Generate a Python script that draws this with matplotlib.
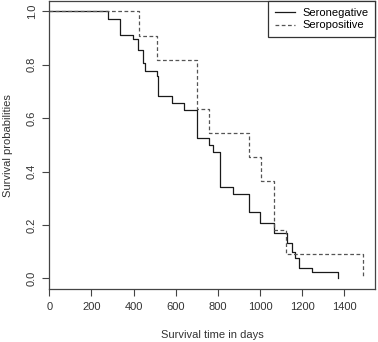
import matplotlib
matplotlib.use("Agg")
import matplotlib.pyplot as plt

# Kaplan-Meier step values
neg_days = [0, 277, 336, 399, 423, 447, 456, 510, 518, 581, 637, 700, 760,
            779, 811, 874, 947, 1001, 1064, 1128, 1150, 1167, 1186, 1246, 1370]
neg_surv = [1.0, 0.971, 0.910, 0.895, 0.855, 0.805, 0.776, 0.758, 0.683,
            0.657, 0.631, 0.527, 0.500, 0.475, 0.342, 0.315, 0.248, 0.209,
            0.169, 0.133, 0.097, 0.076, 0.038, 0.025, 0.0]

pos_days = [0, 426, 513, 700, 760, 947, 1006, 1064, 1124, 1490]
pos_surv = [1.0, 0.909, 0.818, 0.636, 0.545, 0.455, 0.364, 0.182, 0.091, 0.0]

x_ticks = [0, 200, 400, 600, 800, 1000, 1200, 1400]
y_ticks = [0.0, 0.2, 0.4, 0.6, 0.8, 1.0]

plt.rcParams["font.family"] = ["Liberation Sans", "DejaVu Sans"]
FS = 8

fig = plt.figure(figsize=(3.78, 3.42), dpi=100)
ax = fig.add_axes([49.3 / 378, 1 - 289.3 / 342, 326 / 378, 288.3 / 342])

ax.step(neg_days, neg_surv, where="post", color="#1a1a1a", lw=0.9,
        label="Seronegative")
ax.step(pos_days, pos_surv, where="post", color="#555555", lw=0.9,
        linestyle=(0, (3, 2)), label="Seropositive")

ax.set_xlim(0, 1547)
ax.set_ylim(-0.041, 1.039)
ax.set_xticks(x_ticks)
ax.set_yticks(y_ticks)
ax.set_xticklabels([str(t) for t in x_ticks], fontsize=FS, color="#333333")
ax.set_yticklabels([f"{t:.1f}" for t in y_ticks], fontsize=FS,
                   rotation=90, va="center", color="#333333")
ax.tick_params(length=5, width=0.8, color="#444444", pad=4)
for sp in ax.spines.values():
    sp.set_color("#444444")
    sp.set_linewidth(0.9)

ax.set_xlabel("Survival time in days", fontsize=FS, color="#333333",
              labelpad=13)
ax.set_ylabel("Survival probabilities", fontsize=FS, color="#333333",
              labelpad=10)

leg = ax.legend(loc="upper right", borderaxespad=0, fancybox=False,
                fontsize=FS, handlelength=1.8, handletextpad=0.7,
                framealpha=1, edgecolor="#333333", borderpad=0.6,
                labelspacing=0.25)
leg.get_frame().set_linewidth(0.9)

fig.savefig("out.png", dpi=100)
